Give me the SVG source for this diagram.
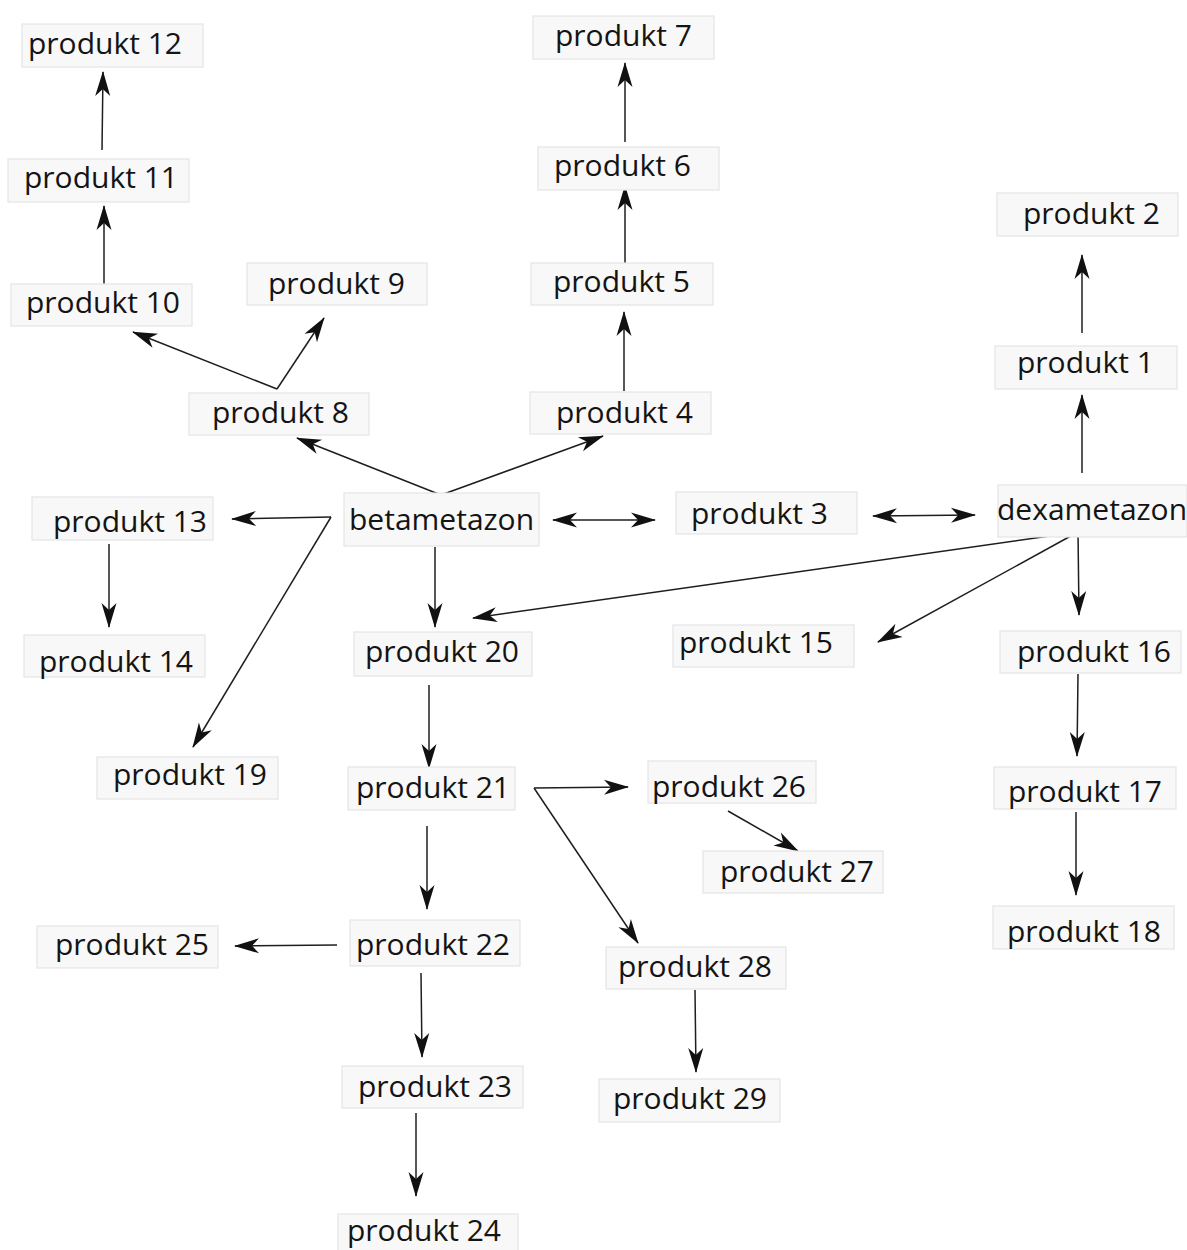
<svg xmlns="http://www.w3.org/2000/svg" width="1187" height="1250" viewBox="0 0 1187 1250">
<style>
.n rect{fill:#f8f8f8;stroke:#e4e4e4;stroke-width:1.2}
.n text{font-family:"Open Sans","Noto Sans","DejaVu Sans",sans-serif;font-size:30px;fill:#141414}
#connectors line{stroke:#1e1e1e;stroke-width:1.5;fill:none;marker-end:url(#ah)}
#connectors .both{marker-start:url(#ahs)}
</style>
<defs>
<marker id="ah" markerUnits="userSpaceOnUse" markerWidth="30" markerHeight="20" viewBox="-26 -10 30 20" refX="0" refY="0" orient="auto">
<path d="M1,0 L-24,-7.5 L-17,0 L-24,7.5 Z" fill="#111"/>
</marker>
<marker id="ahs" markerUnits="userSpaceOnUse" markerWidth="30" markerHeight="20" viewBox="-26 -10 30 20" refX="0" refY="0" orient="auto-start-reverse">
<path d="M1,0 L-24,-7.5 L-17,0 L-24,7.5 Z" fill="#111"/>
</marker>
</defs>
<rect width="1187" height="1250" fill="#ffffff"/>
<g id="connectors">
<line x1="102" y1="150" x2="103" y2="72"/>
<line x1="104" y1="284" x2="104" y2="206"/>
<line x1="277" y1="389" x2="133" y2="332"/>
<line x1="277" y1="389" x2="324" y2="318"/>
<line x1="625" y1="142" x2="625" y2="63"/>
<line x1="625" y1="265" x2="625" y2="186"/>
<line x1="624" y1="391" x2="624" y2="312"/>
<line x1="441" y1="495" x2="297" y2="438"/>
<line x1="441" y1="495" x2="603" y2="436"/>
<line x1="1082" y1="333" x2="1082" y2="255"/>
<line x1="1082" y1="473" x2="1082" y2="395"/>
<line class="both" x1="553" y1="520" x2="655" y2="520"/>
<line class="both" x1="873" y1="516" x2="975" y2="515"/>
<line x1="435" y1="547" x2="435" y2="627"/>
<line x1="1078" y1="532" x2="473" y2="618"/>
<line x1="1078" y1="532" x2="878" y2="642"/>
<line x1="1078" y1="532" x2="1079" y2="615"/>
<line x1="331" y1="517" x2="232" y2="519"/>
<line x1="331" y1="517" x2="193" y2="747"/>
<line x1="109" y1="544" x2="109" y2="627"/>
<line x1="1078" y1="674" x2="1077" y2="756"/>
<line x1="1076" y1="812" x2="1076" y2="895"/>
<line x1="429" y1="685" x2="429" y2="768"/>
<line x1="534" y1="788" x2="628" y2="787"/>
<line x1="534" y1="788" x2="638" y2="943"/>
<line x1="728" y1="811" x2="798" y2="851"/>
<line x1="427" y1="826" x2="427" y2="909"/>
<line x1="337" y1="945" x2="235" y2="946"/>
<line x1="421" y1="973" x2="422" y2="1057"/>
<line x1="416" y1="1113" x2="416" y2="1196"/>
<line x1="695" y1="990" x2="696" y2="1072"/>
</g>
<g id="p12" class="n"><rect x="22" y="24" width="181" height="43"/><text x="28" y="54">produkt 12</text></g>
<g id="p11" class="n"><rect x="8" y="159" width="181" height="43"/><text x="24" y="188">produkt 11</text></g>
<g id="p10" class="n"><rect x="11" y="284" width="181" height="42"/><text x="26" y="313">produkt 10</text></g>
<g id="p9" class="n"><rect x="247" y="263" width="180" height="42"/><text x="268" y="294">produkt 9</text></g>
<g id="p8" class="n"><rect x="189" y="393" width="180" height="42"/><text x="212" y="423">produkt 8</text></g>
<g id="p7" class="n"><rect x="533" y="16" width="181" height="43"/><text x="555" y="46">produkt 7</text></g>
<g id="p6" class="n"><rect x="538" y="147" width="181" height="43"/><text x="554" y="176">produkt 6</text></g>
<g id="p5" class="n"><rect x="531" y="263" width="182" height="42"/><text x="553" y="292">produkt 5</text></g>
<g id="p4" class="n"><rect x="530" y="392" width="181" height="42"/><text x="556" y="423">produkt 4</text></g>
<g id="p2" class="n"><rect x="997" y="193" width="181" height="43"/><text x="1023" y="224">produkt 2</text></g>
<g id="p1" class="n"><rect x="995" y="346" width="182" height="43"/><text x="1017" y="373">produkt 1</text></g>
<g id="dexametazon" class="n"><rect x="998" y="485" width="189" height="52"/><text x="997" y="520">dexametazon</text></g>
<g id="betametazon" class="n"><rect x="344" y="493" width="195" height="53"/><text x="349" y="530">betametazon</text></g>
<g id="p3" class="n"><rect x="676" y="492" width="181" height="42"/><text x="691" y="524">produkt 3</text></g>
<g id="p13" class="n"><rect x="32" y="497" width="181" height="43"/><text x="53" y="532">produkt 13</text></g>
<g id="p14" class="n"><rect x="24" y="635" width="181" height="42"/><text x="39" y="672">produkt 14</text></g>
<g id="p19" class="n"><rect x="97" y="757" width="181" height="42"/><text x="113" y="785">produkt 19</text></g>
<g id="p20" class="n"><rect x="354" y="632" width="178" height="44"/><text x="365" y="662">produkt 20</text></g>
<g id="p15" class="n"><rect x="673" y="625" width="181" height="42"/><text x="679" y="653">produkt 15</text></g>
<g id="p16" class="n"><rect x="1000" y="631" width="181" height="42"/><text x="1017" y="662">produkt 16</text></g>
<g id="p17" class="n"><rect x="994" y="767" width="182" height="42"/><text x="1008" y="802">produkt 17</text></g>
<g id="p18" class="n"><rect x="993" y="906" width="181" height="43"/><text x="1007" y="942">produkt 18</text></g>
<g id="p21" class="n"><rect x="348" y="767" width="167" height="43"/><text x="356" y="798">produkt 21</text></g>
<g id="p26" class="n"><rect x="648" y="761" width="168" height="42"/><text x="652" y="797">produkt 26</text></g>
<g id="p27" class="n"><rect x="703" y="851" width="180" height="42"/><text x="720" y="882">produkt 27</text></g>
<g id="p22" class="n"><rect x="350" y="920" width="170" height="46"/><text x="356" y="955">produkt 22</text></g>
<g id="p28" class="n"><rect x="606" y="947" width="180" height="42"/><text x="618" y="977">produkt 28</text></g>
<g id="p25" class="n"><rect x="37" y="926" width="181" height="42"/><text x="55" y="955">produkt 25</text></g>
<g id="p23" class="n"><rect x="342" y="1066" width="181" height="42"/><text x="358" y="1097">produkt 23</text></g>
<g id="p24" class="n"><rect x="338" y="1214" width="180" height="40"/><text x="347" y="1241">produkt 24</text></g>
<g id="p29" class="n"><rect x="599" y="1079" width="181" height="43"/><text x="613" y="1109">produkt 29</text></g>
</svg>
